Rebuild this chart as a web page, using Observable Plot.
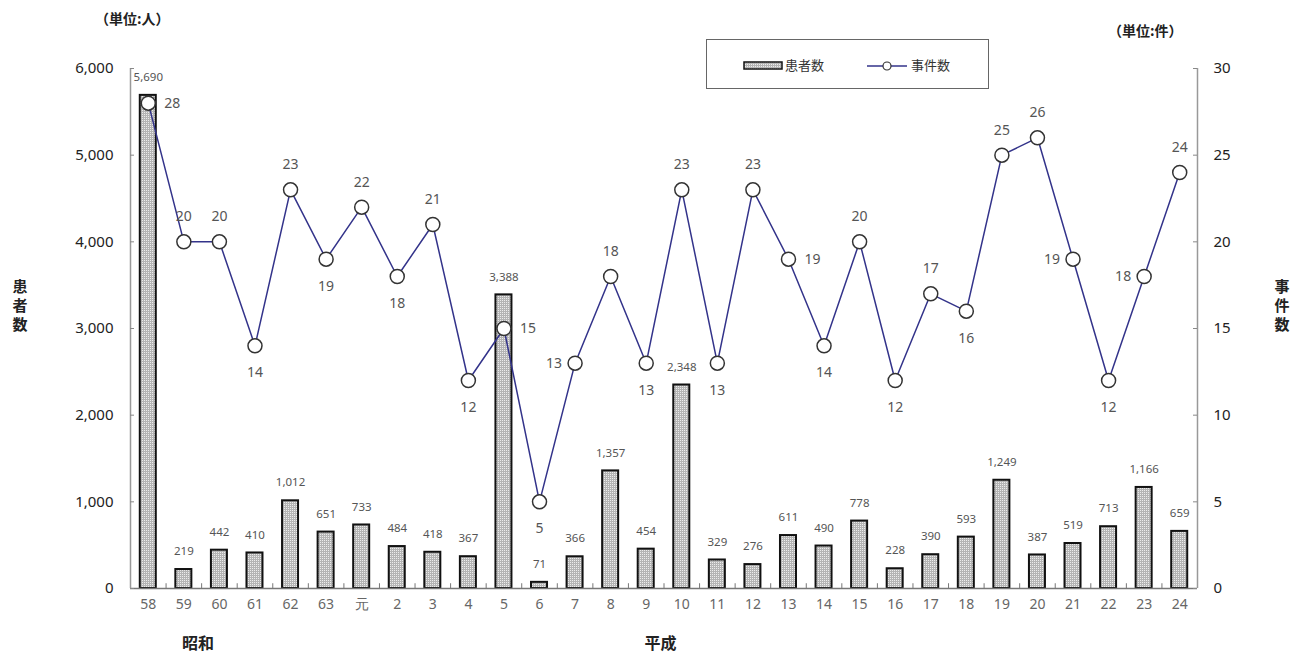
<!DOCTYPE html>
<html>
<head>
<meta charset="utf-8">
<script src="https://cdn.jsdelivr.net/npm/d3@7"></script>
<script src="https://cdn.jsdelivr.net/npm/@observablehq/plot@0.6"></script>
<style>
  html, body { margin: 0; padding: 0; background: #fff; }
  #wrap { position: relative; width: 1308px; height: 661px; font-family: "Noto Sans CJK JP", "Noto Sans", sans-serif; }
  .lbl { position: absolute; color: #222; white-space: nowrap; }
  .vt { position: absolute; font-weight: bold; font-size: 15px; line-height: 19px; color: #222; width: 18px; text-align: center; }
  #legend { position: absolute; left: 706px; top: 39px; width: 283px; height: 50px; border: 1px solid #666; box-sizing: border-box; font-size: 13px; color: #333; }
</style>
</head>
<body>
<div id="wrap">
  <div id="chart"></div>
  <div class="lbl" style="left:95px; top:8px; font-size:14px; font-weight:bold;">（単位:人）</div>
  <div class="lbl" style="left:1108px; top:20px; font-size:14px; font-weight:bold;">（単位:件）</div>
  <div class="vt" style="left:11px; top:276px;">患<br>者<br>数</div>
  <div class="vt" style="left:1273px; top:276px;">事<br>件<br>数</div>
  <div id="legend">
    <svg width="283" height="50" style="position:absolute;left:0;top:0">
      <defs>
        <pattern id="dotsL" width="2" height="2" patternUnits="userSpaceOnUse">
          <rect width="2" height="2" fill="#b4b4b4"/>
          <rect width="1" height="1" fill="#ececec"/>
        </pattern>
      </defs>
      <rect x="37" y="22" width="38" height="7" fill="url(#dotsL)" stroke="#111" stroke-width="1.5"/>
      <text x="78" y="30" font-size="13" fill="#333" font-family="Noto Sans CJK JP">患者数</text>
      <line x1="160" y1="26" x2="200" y2="26" stroke="#33338a" stroke-width="1.5"/>
      <circle cx="180" cy="26" r="4" fill="#fff" stroke="#333" stroke-width="1.2"/>
      <text x="204" y="30" font-size="13" fill="#333" font-family="Noto Sans CJK JP">事件数</text>
    </svg>
  </div>
</div>
<script>
// ---- data ----
const categories = ["58","59","60","61","62","63","元","2","3","4","5","6","7","8","9","10","11","12","13","14","15","16","17","18","19","20","21","22","23","24"];
const patients = [5690,219,442,410,1012,651,733,484,418,367,3388,71,366,1357,454,2348,329,276,611,490,778,228,390,593,1249,387,519,713,1166,659];
const incidents = [28,20,20,14,23,19,22,18,21,12,15,5,13,18,13,23,13,23,19,14,20,12,17,16,25,26,19,12,18,24];
const leftTicks = [0,1000,2000,3000,4000,5000,6000];
const rightTicks = [0,5,10,15,20,25,30];
const eras = [{label:"昭和", at:"59"}, {label:"平成", at:"9"}];
// label placement for incident values (a = above, b = below, r = right, l = left)
const incidentLabelSide = ["r","a","a","b","a","b","a","b","a","b","r","b","l","a","b","a","b","a","r","b","a","b","a","b","a","a","l","b","l","a"];

const ratio = 6000 / 30;
const rows = categories.map((c, i) => ({cat: c, patients: patients[i], incidents: incidents[i], side: incidentLabelSide[i]}));
const fmt = d3.format(",");

const W = 1308, ML = 130, MR = 111;
const FW = W - ML - MR;
const step = FW / categories.length;

const incText = (side, opts) => Plot.text(rows.filter(d => d.side === side), {
  x: "cat", y: d => d.incidents * ratio, text: d => String(d.incidents),
  fontSize: 14, fill: "#555", ...opts
});

const plot = Plot.plot({
  width: W, height: 661,
  marginLeft: ML, marginRight: MR, marginTop: 68, marginBottom: 73,
  style: {fontFamily: "'Noto Sans', 'DejaVu Sans', sans-serif", background: "#fff"},
  x: {type: "band", domain: categories, paddingInner: 0.55, paddingOuter: 0.275, round: false},
  y: {domain: [0, 6000]},
  marks: [
    Plot.barY(rows, {x: "cat", y: "patients", fill: "url(#dots)", stroke: "#111", strokeWidth: 2}),
    Plot.ruleY([0], {stroke: "#777", strokeWidth: 1.5}),
    Plot.ruleX(categories.slice(1), {x: d => d, y1: 0, y2: 55, dx: -step / 2, stroke: "#777"}),
    Plot.axisY({ticks: leftTicks, tickFormat: fmt, anchor: "left", tickSize: 0, tickPadding: 17, fontSize: 15, color: "#222", label: null}),
    Plot.axisY({ticks: rightTicks.map(v => v * ratio), tickFormat: d => String(d / ratio), anchor: "right", tickSize: 0, tickPadding: 16, fontSize: 15, color: "#222", label: null}),
    Plot.ruleX([categories[0]], {dx: -step / 2, y1: 0, y2: 6000, stroke: "#999", strokeWidth: 1.5}),
    Plot.ruleX([categories[categories.length - 1]], {dx: step / 2, y1: 0, y2: 6000, stroke: "#999", strokeWidth: 1.5}),
    Plot.tickY(leftTicks, {y: d => d, stroke: "#888", insetRight: FW - 4}),
    Plot.tickY(leftTicks, {y: d => d, stroke: "#888", insetLeft: FW - 4}),
    Plot.axisX({tickSize: 0, tickPadding: 11, fontSize: 14, color: "#666", label: null}),
    Plot.text(rows, {x: "cat", y: "patients", text: d => fmt(d.patients), dy: -18, fontSize: 11.5, fill: "#555"}),
    Plot.line(rows, {x: "cat", y: d => d.incidents * ratio, stroke: "#33338a", strokeWidth: 1.5}),
    Plot.dot(rows, {x: "cat", y: d => d.incidents * ratio, r: 7, fill: "#fff", stroke: "#333", strokeWidth: 1.5}),
    incText("a", {dy: -25}),
    incText("b", {dy: 27}),
    incText("r", {dx: 16, textAnchor: "start"}),
    incText("l", {dx: -13, textAnchor: "end"}),
    Plot.text(eras, {x: "at", frameAnchor: "bottom", text: "label", dx: step * 0.4, dy: 60, fontSize: 16, fontWeight: "bold", fill: "#222", fontFamily: "Noto Sans CJK JP"})
  ]
});

// pattern definition for the stippled bars
const svgNS = "http://www.w3.org/2000/svg";
const defs = document.createElementNS(svgNS, "defs");
defs.innerHTML = `<pattern id="dots" width="2" height="2" patternUnits="userSpaceOnUse">
  <rect width="2" height="2" fill="#b4b4b4"/>
  <rect width="1" height="1" fill="#ececec"/>
</pattern>`;
plot.insertBefore(defs, plot.firstChild);
document.getElementById("chart").appendChild(plot);
</script>
</body>
</html>
